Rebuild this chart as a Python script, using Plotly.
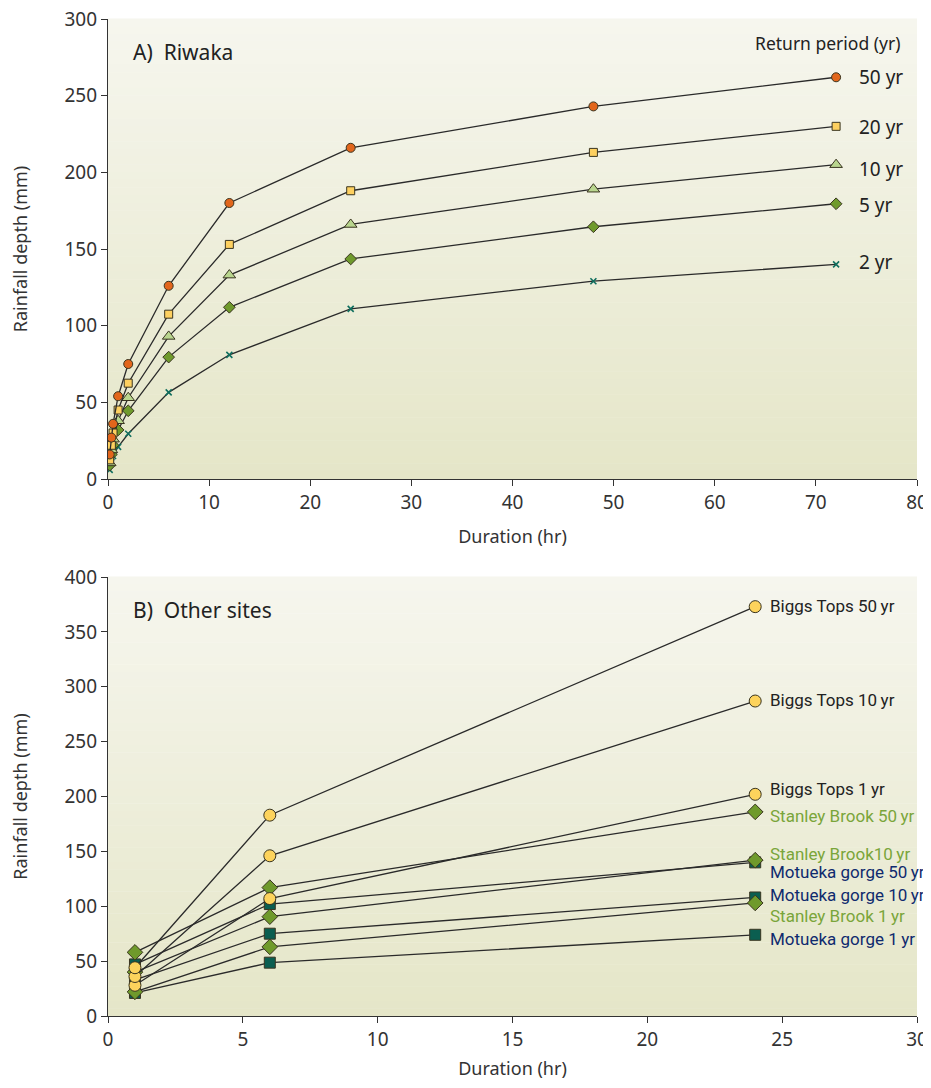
import plotly.graph_objects as go

# ---------------- Panel A data (Riwaka) ----------------
dur_a = [0.1667, 0.3333, 0.5, 1, 2, 6, 12, 24, 48, 72]
riwaka_50 = [16, 27, 36, 54, 75, 126, 180, 216, 243, 262]
riwaka_20 = [12.5, 22, 30, 45, 62.5, 107.5, 153, 188, 213, 230]
riwaka_10 = [10.5, 19, 26, 38, 53, 93, 133, 166, 189, 205]
riwaka_5 = [9, 16, 22, 32, 44.5, 79.5, 112, 143.5, 164.5, 179.5]
riwaka_2 = [6, 11, 15, 21, 29.5, 56.5, 81, 111, 129, 140]
labels_a = ["50 yr", "20 yr", "10 yr", "5 yr", "2 yr"]
label_y_a = [262, 229.6, 202, 178.7, 141.5]

# ---------------- Panel B data (Other sites) ----------------
dur_b = [1, 6, 24]
biggs_50 = [44, 183, 373]
biggs_10 = [36, 146, 287]
biggs_1 = [28, 107, 202]
stanley_50 = [58, 117, 186]
stanley_10 = [40, 90.5, 142]
stanley_1 = [22, 63, 103]
motueka_50 = [47, 102, 140]
motueka_10 = [33, 75, 108]
motueka_1 = [21, 48.6, 74]
labels_b = ["Biggs Tops 50\u2009yr", "Biggs Tops 10\u2009yr", "Biggs Tops 1\u2009yr",
            "Stanley Brook 50\u2009yr", "Stanley Brook10\u2009yr", "Motueka gorge 50\u2009yr",
            "Motueka gorge 10\u2009yr", "Stanley Brook 1\u2009yr", "Motueka gorge 1\u2009yr"]
label_y_b = [373.6, 288, 206.8, 182, 147.5, 131.5, 110, 91.5, 70]

LINE = "#2a2a2a"
OUT = "#3a3520"
ORANGE = "#e2661c"
YELLOW = "#fdd060"
LGREEN = "#b9d68e"
GREEN = "#6f9a2c"
TEAL = "#0f6e5e"
DTEAL = "#0b5e50"
BYELLOW = "#fdd35c"
SGREEN = "#7aa53a"
NAVY = "#0f2a6e"

fig = go.Figure()

def add(x, y, symbol, color, size, xa, ya, lw=1.3):
    fig.add_trace(go.Scatter(
        x=x, y=y, mode="lines+markers", xaxis=xa, yaxis=ya,
        line=dict(color=LINE, width=lw),
        marker=dict(symbol=symbol, color=color, size=size,
                    line=dict(color=OUT if symbol != "x-thin" else color, width=1 if symbol != "x-thin" else 1.6)),
        showlegend=False, hoverinfo="x+y"))

add(dur_a, riwaka_2, "x-thin", TEAL, 6, "x", "y")
add(dur_a, riwaka_5, "diamond", GREEN, 9, "x", "y")
add(dur_a, riwaka_10, "triangle-up", LGREEN, 11, "x", "y")
add(dur_a, riwaka_20, "square", YELLOW, 8, "x", "y")
add(dur_a, riwaka_50, "circle", ORANGE, 9, "x", "y")

add(dur_b, motueka_1, "square", DTEAL, 11, "x2", "y2")
add(dur_b, motueka_10, "square", DTEAL, 11, "x2", "y2")
add(dur_b, motueka_50, "square", DTEAL, 11, "x2", "y2")
add(dur_b, stanley_1, "diamond", GREEN, 12, "x2", "y2")
add(dur_b, stanley_10, "diamond", GREEN, 12, "x2", "y2")
add(dur_b, stanley_50, "diamond", GREEN, 12, "x2", "y2")
add(dur_b, biggs_1, "circle", BYELLOW, 12, "x2", "y2")
add(dur_b, biggs_10, "circle", BYELLOW, 12, "x2", "y2")
add(dur_b, biggs_50, "circle", BYELLOW, 12, "x2", "y2")

FONT = "Noto Sans, Open Sans, sans-serif"
TICKC = "#333333"

ann = []
ann.append(dict(x=0.028, y=0.929, xref="x domain", yref="y domain", text="A)  Riwaka",
                showarrow=False, xanchor="left", yanchor="middle",
                font=dict(size=21, color="#222", family=FONT)))
ann.append(dict(x=0.028, y=0.926, xref="x2 domain", yref="y2 domain", text="B)  Other sites",
                showarrow=False, xanchor="left", yanchor="middle",
                font=dict(size=21, color="#222", family=FONT)))
ann.append(dict(x=78.5, y=284.4, xref="x", yref="y", text="Return period (yr)",
                showarrow=False, xanchor="right", yanchor="middle",
                font=dict(size=17.5, color="#222", family=FONT)))
for t, yv in zip(labels_a, label_y_a):
    ann.append(dict(x=74.1, y=yv, xref="x", yref="y", text=t, showarrow=False,
                    xanchor="left", yanchor="middle", font=dict(size=19, color="#222", family=FONT)))
colors_b = ["#222", "#222", "#222", SGREEN, SGREEN, NAVY, NAVY, SGREEN, NAVY]
for t, yv, c in zip(labels_b, label_y_b, colors_b):
    ann.append(dict(x=24.47, y=yv, xref="x2", yref="y2", text=t, showarrow=False,
                    xanchor="left", yanchor="middle",
                    font=dict(size=17, color=c, family="Roboto, sans-serif")))

# gradient background stripes
shapes = []
N = 60
top = (246, 246, 238)
bot = (229, 230, 200)
for ax, ay in [("x", "y"), ("x2", "y2")]:
    for i in range(N):
        f = i / (N - 1)
        c = tuple(int(round(top[k] + (bot[k] - top[k]) * f)) for k in range(3))
        shapes.append(dict(type="rect", xref=f"{ax} domain", yref=f"{ay} domain",
                           x0=0, x1=1, y0=1 - (i + 1) / N, y1=1 - i / N + 0.001,
                           fillcolor=f"rgb{c}", line=dict(width=0), layer="below"))

axis_common = dict(showgrid=False, zeroline=False, showline=True, linecolor="#333",
                   linewidth=1.2, ticks="outside", ticklen=6, tickcolor="#333",
                   automargin=False, ticklabeloverflow="allow",
                   tickfont=dict(size=19, color=TICKC, family=FONT))
TF = dict(size=18, color="#333", family=FONT)

# page body has an 8px margin: figure is sized so that it fits the 931x1088 window
fig.update_layout(
    width=923, height=1072,
    margin=dict(l=100, r=14, t=11, b=64),
    paper_bgcolor="white", plot_bgcolor="rgba(0,0,0,0)",
    xaxis=dict(domain=[0, 1], anchor="y", range=[0, 80], dtick=10,
               title=dict(text="Duration (hr)", font=TF, standoff=16), **axis_common),
    yaxis=dict(domain=[0.5386, 1], anchor="x", range=[0, 300], dtick=50,
               title=dict(text="Rainfall depth (mm)", font=TF, standoff=32), **axis_common),
    xaxis2=dict(domain=[0, 1], anchor="y2", range=[0, 30], dtick=5,
                title=dict(text="Duration (hr)", font=TF, standoff=13), **axis_common),
    yaxis2=dict(domain=[0, 0.4403], anchor="x2", range=[0, 400], dtick=50,
                title=dict(text="Rainfall depth (mm)", font=TF, standoff=32), **axis_common),
    annotations=ann, shapes=shapes,
)

fig.write_html("out.html")
